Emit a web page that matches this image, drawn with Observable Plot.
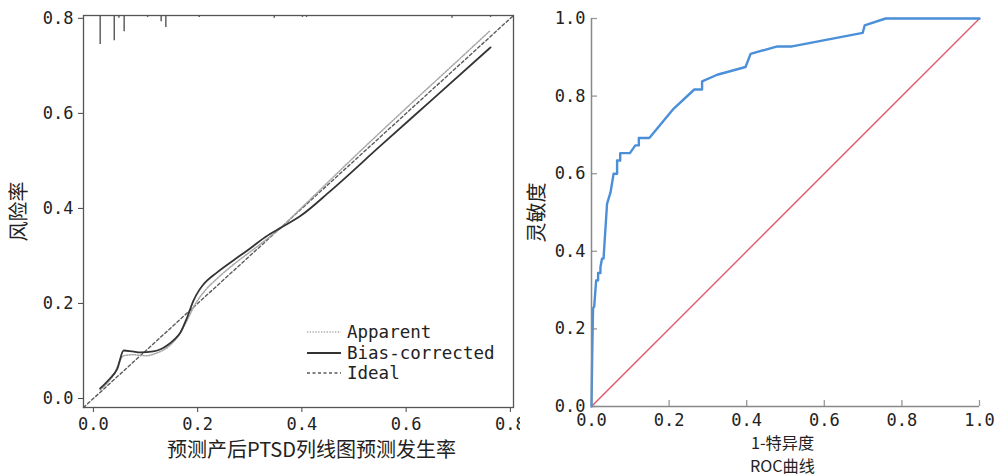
<!DOCTYPE html>
<html>
<head>
<meta charset="utf-8">
<script src="https://cdn.jsdelivr.net/npm/d3@7"></script>
<script src="https://cdn.jsdelivr.net/npm/@observablehq/plot@0.6"></script>
<style>
  html, body { margin: 0; padding: 0; background: #fff; }
  #wrap { position: relative; width: 1001px; height: 476px; overflow: hidden; background: #fff; }
  #left { position: absolute; left: 0; top: 0; }
  #right { position: absolute; left: 520px; top: 0; }
  #legend { position: absolute; left: 306px; top: 322px; font-family: "DejaVu Sans Mono", monospace; font-size: 17.5px; color: #222; line-height: 20.5px; }
  #legend .row { display: flex; align-items: center; height: 20.5px; }
  #legend svg { width: 36px; height: 10px; margin-right: 5px; }
</style>
</head>
<body>
<div id="wrap">
  <div id="left"></div>
  <div id="right"></div>
  <div id="legend"></div>
</div>
<script>
// ---------- Calibration (left) ----------
const calDomain = [-0.019, 0.806];
const calTicks = [0, 0.2, 0.4, 0.6, 0.8];

const apparentX = [0.013, 0.040, 0.058, 0.075, 0.100, 0.120, 0.145, 0.165, 0.180, 0.195, 0.215, 0.240, 0.270, 0.300, 0.330, 0.360, 0.400, 0.500, 0.600, 0.700, 0.760];
const apparentY = [0.018, 0.052, 0.090, 0.092, 0.090, 0.095, 0.110, 0.135, 0.165, 0.198, 0.228, 0.255, 0.283, 0.308, 0.333, 0.360, 0.402, 0.508, 0.611, 0.712, 0.773];

const biasX = [0.013, 0.030, 0.046, 0.058, 0.075, 0.090, 0.115, 0.130, 0.142, 0.155, 0.167, 0.180, 0.192, 0.203, 0.211, 0.238, 0.269, 0.296, 0.330, 0.362, 0.397, 0.455, 0.550, 0.650, 0.762];
const biasY = [0.021, 0.040, 0.063, 0.101, 0.099, 0.097, 0.099, 0.104, 0.112, 0.124, 0.139, 0.171, 0.206, 0.228, 0.240, 0.266, 0.291, 0.312, 0.340, 0.361, 0.384, 0.437, 0.531, 0.629, 0.739];

// distribution of predicted values (rug at top), heights in y units
const rugX = [0.013, 0.040, 0.049, 0.059, 0.104, 0.130, 0.139, 0.166, 0.203, 0.211, 0.221, 0.330, 0.347, 0.401, 0.409, 0.426, 0.455, 0.472, 0.545, 0.688, 0.710, 0.762];
const rugH = [0.061, 0.053, 0.006, 0.034, 0.004, 0.013, 0.025, 0.002, 0.004, 0.002, 0.002, 0.002, 0.006, 0.004, 0.004, 0.002, 0.002, 0.002, 0.002, 0.006, 0.002, 0.004];

const legendLabels = ["Apparent", "Bias-corrected", "Ideal"];

// ---------- ROC (right) ----------
const rocTicks = [0, 0.2, 0.4, 0.6, 0.8, 1.0];
const rocFPR = [0, 0.002, 0.004, 0.007, 0.012, 0.017, 0.017, 0.023, 0.023, 0.027, 0.031, 0.040, 0.049, 0.057, 0.066, 0.066, 0.074, 0.074, 0.099, 0.113, 0.122, 0.122, 0.149, 0.212, 0.265, 0.285, 0.285, 0.324, 0.397, 0.410, 0.479, 0.517, 0.699, 0.704, 0.758, 1.0];
const rocTPR = [0, 0.144, 0.253, 0.258, 0.325, 0.325, 0.344, 0.344, 0.359, 0.381, 0.381, 0.522, 0.552, 0.600, 0.600, 0.634, 0.634, 0.653, 0.653, 0.673, 0.673, 0.692, 0.692, 0.768, 0.817, 0.817, 0.838, 0.855, 0.875, 0.909, 0.928, 0.928, 0.963, 0.982, 1.0, 1.0];
const refLine = [0, 1];

const fmt = d3.format(".1f");
const cjk = "'Noto Sans CJK SC', 'Noto Sans', sans-serif";
const mono = "'DejaVu Sans Mono', monospace";

const idealData = calDomain.map(v => ({x: v, y: v}));
const apparentData = apparentX.map((x, i) => ({x, y: apparentY[i]}));
const biasData = biasX.map((x, i) => ({x, y: biasY[i]}));
const rugData = rugX.map((x, i) => ({x, y1: calDomain[1], y2: calDomain[1] - rugH[i]}));

const left = Plot.plot({
  width: 520, height: 476,
  marginLeft: 83, marginRight: 7, marginTop: 15, marginBottom: 69,
  x: {domain: calDomain},
  y: {domain: calDomain},
  style: {fontFamily: mono, fontSize: "17px", color: "#222", background: "white", overflow: "visible"},
  marks: [
    Plot.axisX(calTicks, {tickSize: 5, tickPadding: 5, tickFormat: fmt, label: null, stroke: "#444"}),
    Plot.axisY(calTicks, {tickSize: 5, tickPadding: 5, tickFormat: fmt, label: null, stroke: "#444"}),
    Plot.ruleX(rugData, {x: "x", y1: "y1", y2: "y2", stroke: "#555", strokeWidth: 1.4}),
    Plot.line(idealData, {x: "x", y: "y", stroke: "#5a5a5a", strokeWidth: 1.4, strokeDasharray: "3,2.5"}),
    Plot.line(apparentData, {x: "x", y: "y", curve: "monotone-x", stroke: "#a6a6a6", strokeWidth: 1.5, strokeDasharray: "1.3,1.5"}),
    Plot.line(biasData, {x: "x", y: "y", curve: "monotone-x", stroke: "#333", strokeWidth: 1.8}),
    Plot.frame({stroke: "#555", strokeWidth: 1.3}),
    Plot.text(["预测产后PTSD列线图预测发生率"], {frameAnchor: "bottom", dx: 13, dy: 43, lineAnchor: "middle", fontFamily: cjk, fontSize: 20, fill: "#222"}),
    Plot.text(["风险率"], {frameAnchor: "left", dx: -64, rotate: -90, lineAnchor: "middle", textAnchor: "middle", fontFamily: cjk, fontSize: 20, fill: "#222"})
  ]
});
document.getElementById("left").appendChild(left);

// legend
const legendStyles = [
  {stroke: "#aaa", width: 1.5, dash: "1.3,1.5"},
  {stroke: "#333", width: 2, dash: null},
  {stroke: "#5a5a5a", width: 1.5, dash: "3,2.5"}
];
const leg = document.getElementById("legend");
legendLabels.forEach((lab, i) => {
  const s = legendStyles[i];
  const row = document.createElement("div");
  row.className = "row";
  row.innerHTML = `<svg viewBox="0 0 36 10"><line x1="1" y1="5" x2="35" y2="5" stroke="${s.stroke}" stroke-width="${s.width}" ${s.dash ? `stroke-dasharray="${s.dash}"` : ""}/></svg><span>${lab}</span>`;
  leg.appendChild(row);
});

// ROC
const rocData = rocFPR.map((x, i) => ({x, y: rocTPR[i]}));
const refData = refLine.map(v => ({x: v, y: v}));
const tickLen = 0.0155;

const right = Plot.plot({
  width: 481, height: 476,
  marginLeft: 71, marginRight: 22, marginTop: 18, marginBottom: 70,
  x: {domain: [0, 1]},
  y: {domain: [0, 1]},
  style: {fontFamily: mono, fontSize: "17px", color: "#222", background: "white", overflow: "visible"},
  marks: [
    Plot.axisX(rocTicks, {tickSize: 0, tickPadding: 7, tickFormat: fmt, label: null}),
    Plot.axisY(rocTicks, {tickSize: 0, tickPadding: 6, tickFormat: fmt, label: null}),
    Plot.ruleX(rocTicks, {x: d => d, y1: 0, y2: tickLen, stroke: "#999", strokeWidth: 1.3}),
    Plot.ruleY(rocTicks, {y: d => d, x1: 0, x2: tickLen, stroke: "#999", strokeWidth: 1.3}),
    Plot.line(refData, {x: "x", y: "y", stroke: "#e0566a", strokeWidth: 1.4}),
    Plot.line(rocData, {x: "x", y: "y", stroke: "#4a8fd8", strokeWidth: 2.4}),
    Plot.ruleX([0], {stroke: "#888", strokeWidth: 1.5}),
    Plot.ruleY([0], {stroke: "#888", strokeWidth: 1.5}),
    Plot.text(["1-特异度\nROC曲线"], {frameAnchor: "bottom", dx: -3, dy: 46.5, lineAnchor: "middle", lineHeight: 1.46, fontFamily: cjk, fontSize: 16.2, fill: "#222"}),
    Plot.text(["灵敏度"], {frameAnchor: "left", dx: -54, rotate: -90, lineAnchor: "middle", textAnchor: "middle", fontFamily: cjk, fontSize: 20, fill: "#222"})
  ]
});
document.getElementById("right").appendChild(right);
</script>
</body>
</html>
